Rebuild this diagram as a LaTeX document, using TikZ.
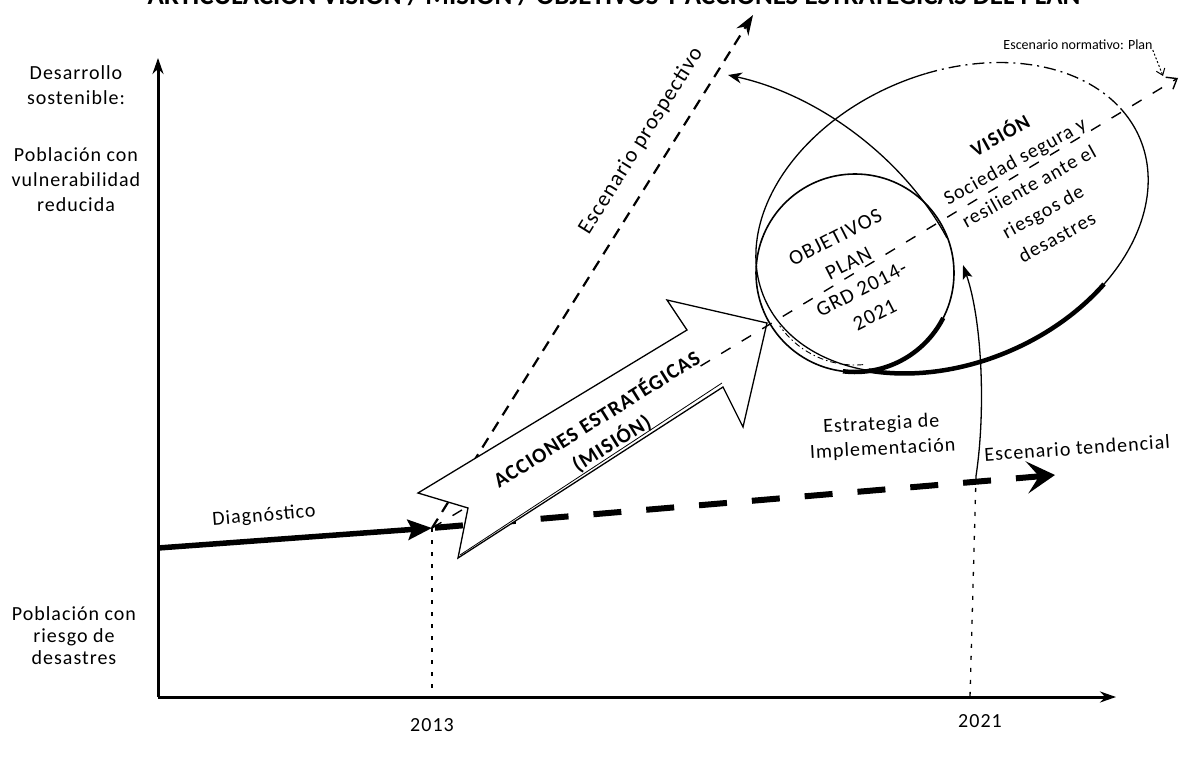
\documentclass[tikz,border=0pt]{standalone}
\usepackage{fontspec}
\setmainfont{Carlito}
\newfontfamily\labfont[LetterSpace=5]{Carlito}
\usetikzlibrary{arrows.meta,calc}
\begin{document}
\begin{tikzpicture}[x=1pt,y=-1pt,
  txt/.style={font=\labfont\fontsize{20}{25}\selectfont, align=center, inner sep=0pt},
  bigtxt/.style={font=\labfont\fontsize{21}{29}\selectfont, align=center, inner sep=0pt},
  axisline/.style={line width=3pt,-{Stealth[length=16pt,width=11pt]}},
  prosp/.style={line width=2.2pt, dash pattern=on 11pt off 8pt},
  norm/.style={line width=1.4pt, dash pattern=on 11pt off 13pt},
  tend/.style={line width=6pt, dash pattern=on 28pt off 25pt, dash phase=50pt},
  guide/.style={line width=1.3pt, dash pattern=on 4pt off 8pt},
  thinline/.style={line width=1.3pt},
  blockarrow/.style={draw, fill=white, line width=1.3pt, line join=miter},
]
\useasboundingbox (0,0) rectangle (1182,759);

% title (cut off at the top)
\node[font=\bfseries\fontsize{27}{30}\selectfont, anchor=base, inner sep=0pt] (title) at (614,5)
  {ARTICULACIÓN VISIÓN / MISIÓN / OBJETIVOS Y ACCIONES ESTRATÉGICAS DEL PLAN};

% key points
\coordinate (O) at (158,697);
\coordinate (Ytop) at (158,58);
\coordinate (Xend) at (1116,697);
\coordinate (D0) at (158,548);
\coordinate (P13) at (432,528);
\coordinate (P21) at (976,476);
\coordinate (ProspEnd) at (753,15);
\coordinate (NormEnd) at (1178,78);
\coordinate (TendEnd) at (1055,475);

% axes
\draw[axisline] (O) -- (Ytop);
\draw[axisline] (O) -- (Xend);

% left labels
\node[txt] (ds) at (76,85) {Desarrollo\\sostenible:};
\node[txt] (pv) at (76,180) {Población con\\vulnerabilidad\\reducida};
\node[txt, font=\labfont\fontsize{20}{22}\selectfont] (pr) at (74,636) {Población con\\riesgo de\\desastres};

% years
\node[txt] (y13) at (432,725) {2013};
\node[txt] (y21) at (980,721) {2021};

% guides
\draw[guide] (P13) -- (P13 |- O);
\draw[guide] (P21) -- (970,697);

% diagnostic arrow
\draw[line width=5.5pt, -{Stealth[length=24pt,width=20pt,inset=4pt]}] (D0) -- (P13);
\node[txt, rotate=4.5] (diag) at (264,516) {Diagnóstico};

% scenario lines under the block arrow
\draw[prosp, -{Stealth[length=20pt,width=14pt]}] (P13) -- (ProspEnd);
\draw[tend, -{Stealth[length=28pt,width=32pt,inset=12pt]}] (P13) -- (TendEnd);
\draw[norm] (P13) -- ($(P13)!0.055!(NormEnd)$);

% big ellipse (vision)
\begin{scope}[shift={(952,218)}, rotate=23]
  \draw[thinline] (-14:204 and 145) arc[start angle=-14, end angle=279, x radius=204, y radius=145];
  \draw[line width=1.3pt, dash pattern=on 12pt off 5pt on 2pt off 5pt] (279:204 and 145) arc[start angle=279, end angle=346, x radius=204, y radius=145];
  \draw[line width=4.5pt] (56:204 and 145) arc[start angle=56, end angle=132, x radius=204, y radius=145];
\end{scope}

% circle (objectives)
\node[circle, draw, line width=1.6pt, minimum size=198pt, inner sep=0pt] (obj) at (855,273) {};
\draw[line width=4.5pt] (855,273) ++(27:99) arc[start angle=27, end angle=97, radius=99];
\draw[line width=0.9pt, dash pattern=on 6pt off 3pt on 1.5pt off 3pt] (855,273) ++(85:92) arc[start angle=85, end angle=145, radius=92];

% block arrow (mission)
\coordinate (A1) at (418,493);
\coordinate (A2) at (687,330);
\coordinate (A3) at (667,300);
\coordinate (A4) at (767,323);
\coordinate (A5) at (743,427);
\coordinate (A6) at (723,387);
\coordinate (A7) at (458,558);
\coordinate (A8) at (468,508);
\draw[blockarrow] (A1) -- (A2) -- (A3) -- (A4) -- (A5) -- (A6) -- (A7) -- (A8) -- cycle;
\draw[line width=0.8pt] ($(A7)+(2,-3)$) -- ($(A6)+(-1,-4)$);
\node[bigtxt, font=\bfseries\labfont\fontsize{21}{28}\selectfont, rotate=32] (mision) at (604,431) {ACCIONES ESTRATÉGICAS\\(MISIÓN)};

% normative scenario line above the block arrow
\draw[norm, -{Straight Barb[length=9pt,width=14pt]}] ($(P13)!0.36!(NormEnd)$) -- (NormEnd);

% curves
\draw[thinline, -{Stealth[length=14pt,width=11pt]}] (947,238) .. controls (905,160) and (820,95) .. (728,75);
\draw[thinline, -{Stealth[length=14pt,width=10pt,inset=3pt]}] (P21) .. controls (986,410) and (982,320) .. (963,265);

% texts in circle and ellipse
\node[bigtxt, rotate=27] (objtxt) at (855,276) {OBJETIVOS\\PLAN\\GRD 2014-\\2021};
\node[bigtxt, font=\labfont\fontsize{20}{29}\selectfont, rotate=29] (vistxt) at (1028,185) {\textbf{VISIÓN}\\Sociedad segura y\\resiliente ante el\\riesgos de\\desastres};

% scenario labels
\node[txt, font=\labfont\fontsize{22}{25}\selectfont, rotate=58] (plab) at (641,141) {Escenario prospectivo};
\node[font=\fontsize{14}{16}\selectfont, inner sep=0pt] (nlab) at (1078,45) {Escenario normativo: Plan};
\draw[line width=1pt, dash pattern=on 2pt off 2pt, -{Straight Barb[length=6pt,width=9pt]}] (nlab.east) ++(0,5) -- (1163,76);
\node[txt, rotate=4] (tlab) at (1077,448) {Escenario tendencial};
\node[txt, rotate=3] (elab) at (882,437) {Estrategia de\\Implementación};
\end{tikzpicture}
\end{document}
